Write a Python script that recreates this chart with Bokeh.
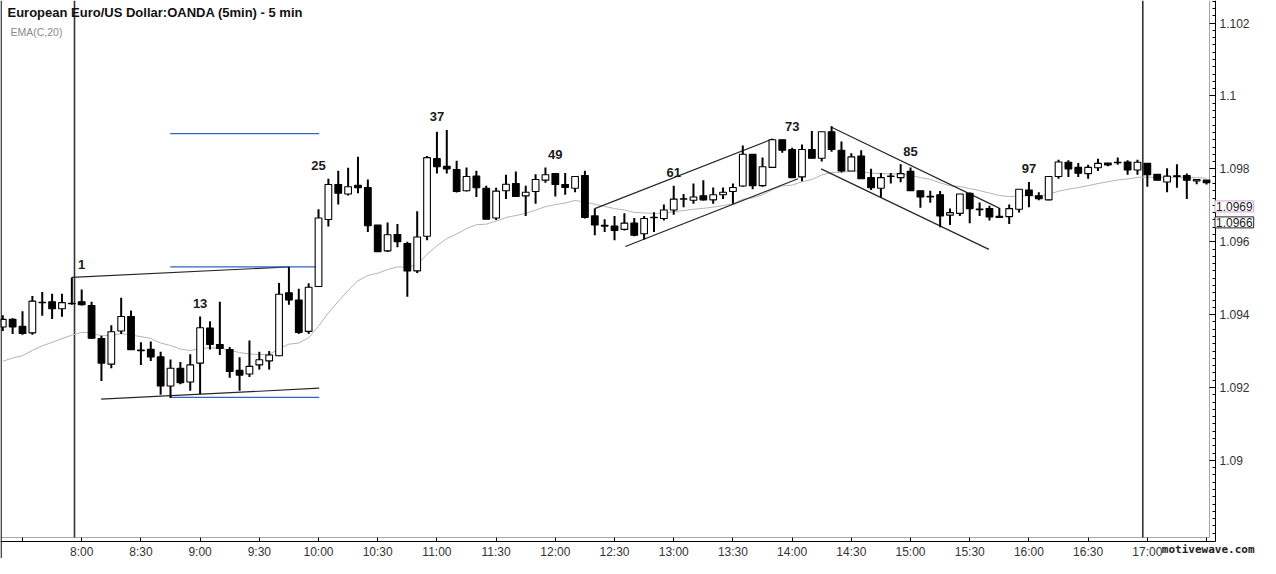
from bokeh.plotting import figure
from bokeh.models import (LinearAxis, FixedTicker, Range1d, Span, Label,
                          ColumnDataSource)
from bokeh.embed import file_html
from bokeh.resources import INLINE
from bokeh.core.properties import value

# ---------------- data ----------------
title_text = "European Euro/US Dollar:OANDA (5min) - 5 min"
indicator_text = "EMA(C,20)"
first_bar_time = (7, 20)
bar_minutes = 5

opens = [1.09366, 1.09387, 1.09368, 1.09350, 1.09433, 1.09435, 1.09416, 1.09431, 1.09435, 1.09425,
         1.09334, 1.09264, 1.09355, 1.09395, 1.09303, 1.09305, 1.09284, 1.09204, 1.09253, 1.09215,
         1.09267, 1.09363, 1.09318, 1.09304, 1.09247, 1.09237, 1.09262, 1.09273, 1.09287, 1.09460,
         1.09440, 1.09354, 1.09477, 1.09661, 1.09757, 1.09731, 1.09755, 1.09749, 1.09646, 1.09575,
         1.09620, 1.09595, 1.09520, 1.09615, 1.09828, 1.09807, 1.09798, 1.09740, 1.09780, 1.09747,
         1.09665, 1.09740, 1.09760, 1.09726, 1.09738, 1.09769, 1.09787, 1.09757, 1.09747, 1.09782,
         1.09671, 1.09645, 1.09643, 1.09634, 1.09651, 1.09622, 1.09667, 1.09664, 1.09687, 1.09718,
         1.09714, 1.09726, 1.09715, 1.09729, 1.09738, 1.09753, 1.09840, 1.09754, 1.09804, 1.09880,
         1.09853, 1.09778, 1.09853, 1.09829, 1.09902, 1.09851, 1.09794, 1.09835, 1.09776, 1.09747,
         1.09780, 1.09776, 1.09793, 1.09740, 1.09725, 1.09729, 1.09673, 1.09678, 1.09733, 1.09690,
         1.09691, 1.09670, 1.09669, 1.09689, 1.09742, 1.09726, 1.09715, 1.09779, 1.09818, 1.09804,
         1.09787, 1.09803, 1.09816, 1.09818, 1.09819, 1.09797, 1.09815, 1.09785, 1.09764, 1.09781,
         1.09782, 1.09767, 1.09769]
highs = [1.09398, 1.09390, 1.09409, 1.09451, 1.09462, 1.09457, 1.09457, 1.09502, 1.09469, 1.09435,
         1.09342, 1.09371, 1.09446, 1.09411, 1.09324, 1.09326, 1.09298, 1.09277, 1.09270, 1.09291,
         1.09395, 1.09382, 1.09435, 1.09311, 1.09283, 1.09329, 1.09298, 1.09300, 1.09487, 1.09531,
         1.09471, 1.09486, 1.09689, 1.09773, 1.09795, 1.09803, 1.09833, 1.09771, 1.09646, 1.09653,
         1.09649, 1.09600, 1.09684, 1.09835, 1.09902, 1.09907, 1.09822, 1.09804, 1.09795, 1.09754,
         1.09748, 1.09784, 1.09793, 1.09754, 1.09785, 1.09804, 1.09787, 1.09789, 1.09779, 1.09795,
         1.09691, 1.09662, 1.09671, 1.09678, 1.09665, 1.09671, 1.09681, 1.09702, 1.09754, 1.09731,
         1.09760, 1.09769, 1.09749, 1.09749, 1.09760, 1.09864, 1.09840, 1.09831, 1.09883, 1.09880,
         1.09858, 1.09867, 1.09904, 1.09902, 1.09917, 1.09875, 1.09843, 1.09851, 1.09800, 1.09789,
         1.09789, 1.09813, 1.09804, 1.09740, 1.09740, 1.09739, 1.09691, 1.09731, 1.09735, 1.09708,
         1.09699, 1.09693, 1.09702, 1.09744, 1.09764, 1.09736, 1.09779, 1.09825, 1.09824, 1.09816,
         1.09811, 1.09828, 1.09816, 1.09831, 1.09824, 1.09825, 1.09815, 1.09785, 1.09802, 1.09813,
         1.09787, 1.09771, 1.09769]
lows = [1.09355, 1.09347, 1.09345, 1.09345, 1.09397, 1.09388, 1.09394, 1.09427, 1.09425, 1.09333,
        1.09218, 1.09253, 1.09347, 1.09304, 1.09262, 1.09273, 1.09180, 1.09171, 1.09209, 1.09191,
        1.09182, 1.09304, 1.09289, 1.09227, 1.09191, 1.09229, 1.09249, 1.09249, 1.09286, 1.09427,
        1.09347, 1.09347, 1.09476, 1.09642, 1.09702, 1.09727, 1.09733, 1.09627, 1.09573, 1.09572,
        1.09585, 1.09449, 1.09514, 1.09604, 1.09787, 1.09787, 1.09735, 1.09738, 1.09723, 1.09662,
        1.09660, 1.09717, 1.09724, 1.09671, 1.09704, 1.09762, 1.09724, 1.09729, 1.09736, 1.09664,
        1.09618, 1.09627, 1.09604, 1.09631, 1.09615, 1.09606, 1.09627, 1.09658, 1.09674, 1.09695,
        1.09704, 1.09713, 1.09704, 1.09717, 1.09704, 1.09751, 1.09744, 1.09751, 1.09804, 1.09844,
        1.09776, 1.09766, 1.09829, 1.09820, 1.09847, 1.09791, 1.09794, 1.09773, 1.09742, 1.09722,
        1.09760, 1.09763, 1.09740, 1.09693, 1.09707, 1.09640, 1.09646, 1.09671, 1.09651, 1.09671,
        1.09658, 1.09665, 1.09649, 1.09680, 1.09695, 1.09714, 1.09714, 1.09773, 1.09778, 1.09778,
        1.09773, 1.09794, 1.09807, 1.09811, 1.09784, 1.09784, 1.09751, 1.09769, 1.09736, 1.09748,
        1.09717, 1.09758, 1.09757]
closes = [1.09387, 1.09366, 1.09348, 1.09437, 1.09434, 1.09416, 1.09433, 1.09430, 1.09427, 1.09335,
          1.09267, 1.09353, 1.09395, 1.09304, 1.09301, 1.09284, 1.09204, 1.09253, 1.09213, 1.09262,
          1.09364, 1.09318, 1.09307, 1.09244, 1.09234, 1.09258, 1.09276, 1.09289, 1.09456, 1.09440,
          1.09351, 1.09475, 1.09665, 1.09757, 1.09733, 1.09751, 1.09748, 1.09644, 1.09573, 1.09619,
          1.09600, 1.09520, 1.09613, 1.09831, 1.09806, 1.09800, 1.09738, 1.09779, 1.09748, 1.09662,
          1.09739, 1.09758, 1.09724, 1.09736, 1.09771, 1.09784, 1.09757, 1.09749, 1.09779, 1.09667,
          1.09646, 1.09643, 1.09631, 1.09651, 1.09618, 1.09664, 1.09666, 1.09687, 1.09717, 1.09717,
          1.09723, 1.09715, 1.09729, 1.09736, 1.09749, 1.09840, 1.09754, 1.09806, 1.09880, 1.09851,
          1.09776, 1.09853, 1.09829, 1.09902, 1.09853, 1.09794, 1.09833, 1.09773, 1.09748, 1.09776,
          1.09779, 1.09787, 1.09740, 1.09723, 1.09723, 1.09671, 1.09680, 1.09731, 1.09691, 1.09688,
          1.09668, 1.09667, 1.09691, 1.09744, 1.09727, 1.09718, 1.09779, 1.09819, 1.09800, 1.09788,
          1.09804, 1.09815, 1.09811, 1.09817, 1.09797, 1.09818, 1.09784, 1.09769, 1.09780, 1.09779,
          1.09769, 1.09771, 1.09762]

ema_seed = 1.09272
ema_period = 20

bar_numbers = [1, 13, 25, 37, 49, 61, 73, 85, 97]
bar_one_time = "8:00"

x_tick_times = ["7:30", "8:00", "8:30", "9:00", "9:30", "10:00", "10:30", "11:00", "11:30",
                "12:00", "12:30", "13:00", "13:30", "14:00", "14:30", "15:00", "15:30",
                "16:00", "16:30", "17:00", "17:30"]
x_tick_hidden = ["7:30", "17:30"]
y_tick_values = [1.090, 1.092, 1.094, 1.096, 1.098, 1.100, 1.102]
y_tick_labels = ["1.09", "1.092", "1.094", "1.096", "1.098", "1.1", "1.102"]

# drawn lines: (bar index start, price start, bar index end, price end)
black_lines = [(7.0, 1.09502, 29.0, 1.09531),
               (9.97, 1.09168, 32.07, 1.09198),
               (60.0, 1.09691, 78.0, 1.09882),
               (63.1, 1.09587, 80.6, 1.09773),
               (83.94, 1.09915, 100.94, 1.09693),
               (82.94, 1.09800, 99.94, 1.09579)]
blue_levels = [1.09897, 1.09531, 1.09173]
blue_span = (16.97, 32.07)
session_breaks = [7.27, 115.54]
price_tags = ["1.0969", "1.0966"]
watermark = "motivewave.com"

# ---------------- layout ----------------
W, H = 1260, 558           # whole canvas (= frame)
PW, PH = 1209, 537         # price panel inside it
X0, X1 = -0.23, 122.3      # bar-index span of the price panel
Y0, Y1 = 1.087883, 1.102621
xpp = (X1 - X0) / PW
ypp = (Y1 - Y0) / PH
AX_FONT = "Liberation Sans"
GRAY = "#a8a8a8"

n = len(opens)
idx = list(range(n))
bar_times = []
for i in range(n):
    m = first_bar_time[0] * 60 + first_bar_time[1] + i * bar_minutes
    bar_times.append("%d:%02d" % (m // 60, m % 60))

p = figure(width=W, height=H,
           x_range=Range1d(X0, X0 + W * xpp), y_range=Range1d(Y1 - H * ypp, Y1),
           x_axis_location=None, y_axis_location=None,
           toolbar_location=None, output_backend="svg",
           min_border=0, min_border_left=0, min_border_top=0,
           min_border_right=0, min_border_bottom=0)
for g in p.grid:
    g.visible = False
p.outline_line_color = None
p.background_fill_color = "white"
p.border_fill_color = "white"

# gray frame edges of the price panel
p.line([X0, X1], [Y0, Y0], line_color=GRAY, line_width=1)
p.line([X1, X1], [Y0, Y1], line_color=GRAY, line_width=1)
p.add_layout(Span(location=X0 + 0.6 * xpp, dimension="height", line_color="black", line_width=1.2))

# price axis (right), offset from the panel edge
minor_y = [round(1.0880 + 0.0002 * k, 4) for k in range(75)]
ax_r = LinearAxis(fixed_location=X1 + 6 * xpp, bounds=(Y0 - 4 * ypp, Y1),
                  ticker=FixedTicker(ticks=y_tick_values, minor_ticks=minor_y),
                  major_label_overrides=dict(zip(y_tick_values, y_tick_labels)),
                  major_tick_in=6, major_tick_out=0, minor_tick_in=3, minor_tick_out=0,
                  axis_line_color="black", major_tick_line_color="black",
                  minor_tick_line_color="black", major_label_standoff=4,
                  major_label_text_font=AX_FONT, major_label_text_font_size="12px",
                  major_label_text_color="#333333")
p.add_layout(ax_r, "right")

# time axis (below), offset from the panel edge
x_tick_pos = [bar_times.index(t) for t in x_tick_times]
x_over = {pos: ("" if t in x_tick_hidden else t) for pos, t in zip(x_tick_pos, x_tick_times)}
ax_b = LinearAxis(fixed_location=Y0 - 4 * ypp, bounds=(X0, X1 + 6 * xpp),
                  ticker=FixedTicker(ticks=x_tick_pos, minor_ticks=[]),
                  major_label_overrides=x_over,
                  major_tick_in=4, major_tick_out=0, minor_tick_in=0, minor_tick_out=0,
                  axis_line_color="black", major_tick_line_color="black",
                  major_label_standoff=3, major_label_text_font=AX_FONT,
                  major_label_text_font_size="12px", major_label_text_color="#333333")
p.add_layout(ax_b, "below")

# session separators
for sb in session_breaks:
    p.line([sb, sb], [Y0, Y1], line_color="#333333", line_width=1.6)

# EMA
ema = [ema_seed]
alpha = 2.0 / (ema_period + 1)
for c in closes[1:]:
    ema.append(ema[-1] + alpha * (c - ema[-1]))
p.line(idx, ema, line_color="#b4b4b4", line_width=1)

# drawn lines
for (a0, b0, a1, b1) in black_lines:
    p.line([a0, a1], [b0, b1], line_color="#262626", line_width=1.2)
for lv in blue_levels:
    p.line([blue_span[0], blue_span[1]], [lv, lv], line_color="#3562c4", line_width=1.2)

# candles
tops = [max(o, c) for o, c in zip(opens, closes)]
bots = [min(o, c) for o, c in zip(opens, closes)]
fills = ["white" if c > o else "black" for o, c in zip(opens, closes)]
src = ColumnDataSource(dict(x=idx, h=highs, l=lows, top=tops, bottom=bots, fill=fills))
p.segment(x0="x", y0="h", x1="x", y1="l", source=src, line_color="black", line_width=2)
p.vbar(x="x", width=0.68, top="top", bottom="bottom", source=src,
       fill_color="fill", line_color="black", line_width=1.1)

# bar count labels
b1 = bar_times.index(bar_one_time)
lx, ly, lt = [], [], []
for num in bar_numbers:
    i = b1 + num - 1
    hi = max(highs[max(i - 1, 0):i + 2])
    lx.append(i)
    ly.append(hi + 13 * ypp)
    lt.append(str(num))
p.text(x=lx, y=ly, text=lt, text_font=value(AX_FONT), text_font_style="bold",
       text_font_size="13px", text_align="center", text_baseline="middle",
       text_color="#1a1a1a")

# title and indicator name
p.add_layout(Label(x=X0 + 7 * xpp, y=Y1 - 12 * ypp, text=title_text,
                   text_font=AX_FONT, text_font_style="bold", text_font_size="13px",
                   text_color="#111111", text_baseline="middle", text_align="left"))
p.add_layout(Label(x=X0 + 10 * xpp, y=Y1 - 31 * ypp, text=indicator_text,
                   text_font=AX_FONT, text_font_size="10.5px",
                   text_color="#8a8a8a", text_baseline="middle", text_align="left"))

# price tags on the axis
tag_styles = [("#d6a2d6", 2.5), ("#222222", -2.5)]
for txt, (bc, dy) in zip(price_tags, tag_styles):
    p.add_layout(Label(x=X1 + 5.5 * xpp, y=float(txt) + dy * ypp, text=txt,
                       text_font=AX_FONT, text_font_size="12px", text_color="#222222",
                       text_baseline="middle", text_align="left",
                       background_fill_color="white", border_line_color=bc,
                       border_line_width=1, padding=1))

# watermark
p.add_layout(Label(x=117.47, y=Y0 - 12.3 * ypp, text=watermark,
                   text_font="DejaVu Sans Mono", text_font_style="bold",
                   text_font_size="11px", text_color="#222222",
                   text_baseline="middle", text_align="left"))

open("out.html", "w").write(file_html(p, INLINE))
